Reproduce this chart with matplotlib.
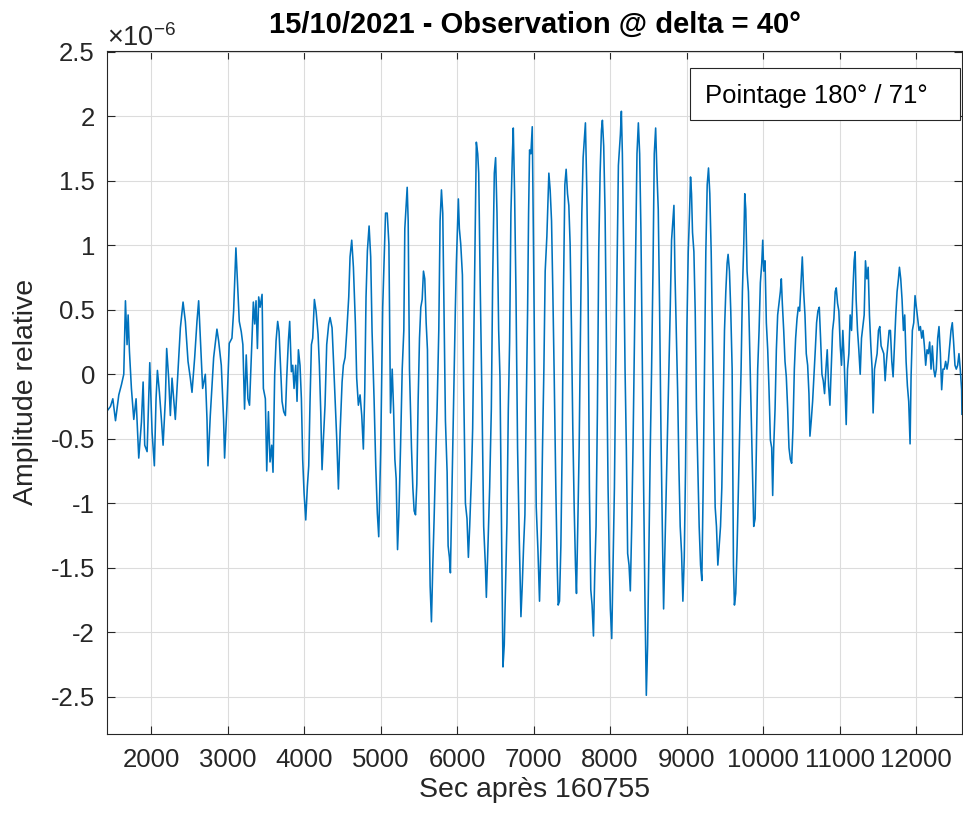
import numpy as np
import matplotlib
matplotlib.use("Agg")
import matplotlib.pyplot as plt
from matplotlib.ticker import FuncFormatter
from matplotlib.patches import Rectangle

# Values (time in s, amplitude in units of 1e-6)
t_seg1 = [1431, 1469, 1500, 1535, 1578, 1613, 1643, 1665, 1686, 1700, 1717, 1743, 1774, 1804, 1839,
          1874, 1896, 1917, 1948, 1983, 2013, 2043, 2065, 2083, 2109, 2135, 2157, 2187, 2204, 2230,
          2252, 2274, 2317, 2352, 2383, 2418, 2448, 2483, 2513, 2535, 2570, 2600, 2622, 2644, 2674,
          2709, 2731, 2744, 2774, 2818, 2861, 2883, 2918, 2948, 2961, 2992, 3022, 3057, 3079, 3109,
          3131, 3153, 3179, 3200, 3222, 3244, 3266, 3287]
a_seg1 = [-0.28, -0.25, -0.19, -0.36, -0.16, -0.08, 0.0, 0.57, 0.23, 0.46, 0.18, -0.11, -0.35, -0.19, -0.65,
          -0.37, -0.06, -0.55, -0.6, 0.09, -0.45, -0.71, -0.19, 0.03, -0.14, -0.35, -0.55, -0.19, 0.2, -0.03,
          -0.32, -0.03, -0.35, 0.02, 0.36, 0.56, 0.41, 0.1, -0.03, -0.14, 0.13, 0.41, 0.57, 0.28, -0.11,
          0.0, -0.35, -0.71, -0.32, 0.13, 0.35, 0.26, 0.07, -0.35, -0.65, -0.24, 0.24, 0.28, 0.49, 0.98,
          0.7, 0.41, 0.33, 0.23, -0.27, 0.15, -0.19, -0.24]

t_seg2 = [3316, 3337, 3355, 3372, 3390, 3407, 3425, 3451, 3468, 3494, 3512, 3534, 3555, 3577, 3594,
          3616, 3634, 3655, 3673, 3695, 3712, 3734, 3756, 3773, 3795, 3812, 3834, 3852, 3869, 3891,
          3908, 3926, 3947, 3965, 3982, 4000, 4022, 4043, 4061, 4078, 4096, 4113, 4135, 4157, 4183,
          4200, 4218, 4235, 4253, 4274, 4296, 4322, 4340, 4366, 4383, 4405, 4427, 4449, 4471, 4497,
          4514, 4536, 4558, 4584, 4601, 4623, 4645, 4671, 4688, 4710, 4732, 4754, 4775, 4793, 4810,
          4828, 4850, 4871, 4889, 4915, 4937, 4958, 4976, 5002, 5028]
a_seg2 = [0.23, 0.56, 0.39, 0.57, 0.2, 0.6, 0.52, 0.62, -0.11, -0.19, -0.75, -0.29, -0.68, -0.55, -0.76,
          0.0, 0.26, 0.41, 0.33, 0.02, -0.21, -0.29, -0.32, -0.03, 0.26, 0.41, 0.02, 0.07, -0.11, 0.07,
          -0.21, 0.19, 0.07, -0.19, -0.66, -0.92, -1.13, -0.87, -0.71, -0.21, 0.23, 0.28, 0.58, 0.49, 0.31,
          0.07, -0.29, -0.74, -0.5, -0.24, 0.23, 0.39, 0.44, 0.36, 0.13, -0.19, -0.5, -0.89, -0.45, -0.06,
          0.07, 0.13, 0.33, 0.6, 0.91, 1.04, 0.83, 0.39, -0.03, -0.24, -0.16, -0.32, -0.58, -0.14, 0.6,
          0.96, 1.15, 0.91, 0.33, -0.19, -0.71, -1.08, -1.26, -0.58, 0.52]

t_seg3 = [5065, 5087, 5109, 5118, 5130, 5152, 5170, 5187, 5204, 5222, 5239, 5261, 5283, 5304, 5317,
          5335, 5348, 5361, 5378, 5404, 5422, 5439, 5457, 5474, 5491, 5509, 5526, 5544, 5561, 5578,
          5596, 5613, 5630, 5648, 5665, 5683, 5700, 5717, 5739, 5761, 5778, 5796, 5813, 5830, 5848,
          5870, 5883, 5900, 5913, 5926, 5944, 5961, 5978, 5991, 6004, 6017, 6030, 6048, 6070, 6087,
          6109, 6130, 6148, 6165, 6187, 6204, 6222, 6239, 6252, 6270, 6283, 6304, 6326, 6348, 6370,
          6383, 6404, 6426, 6448, 6465, 6487, 6504, 6522, 6544, 6561, 6587]
a_seg3 = [1.25, 1.25, 1.01, 0.46, -0.3, 0.04, -0.27, -0.66, -0.81, -1.36, -1.09, -0.57, 0.04, 0.34, 1.13,
          1.31, 1.45, 1.19, 0.04, -0.57, -0.88, -1.06, -1.09, -0.85, -0.21, 0.28, 0.52, 0.58, 0.8, 0.74,
          0.4, 0.19, -0.88, -1.64, -1.92, -1.48, -1.12, -0.72, -0.27, 0.34, 1.19, 1.43, 1.25, 0.46, -0.36,
          -0.76, -1.33, -1.42, -1.54, -1.12, -0.57, 0.04, 0.52, 0.86, 1.1, 1.36, 1.13, 1.01, 0.77, -0.12,
          -1.0, -1.12, -1.42, -1.18, -0.81, -0.42, 0.4, 1.16, 1.8, 1.71, 1.56, 0.64, -0.21, -1.18, -1.48,
          -1.73, -1.33, -0.88, -0.27, 0.71, 1.56, 1.68, 1.25, 0.34, -0.02, -1.48]

t_seg4 = [6600, 6617, 6635, 6652, 6670, 6687, 6704, 6722, 6735, 6752, 6770, 6791, 6813, 6835, 6852,
          6870, 6887, 6904, 6922, 6935, 6948, 6965, 6983, 7000, 7017, 7035, 7057, 7078, 7100, 7117,
          7135, 7152, 7174, 7187, 7200, 7217, 7235, 7252, 7270, 7291, 7309, 7322, 7339, 7357, 7374,
          7391, 7409, 7426, 7444, 7461, 7478, 7496, 7513, 7531, 7548, 7561, 7578, 7596, 7613, 7631,
          7648, 7661, 7678, 7696, 7713, 7730, 7748, 7765, 7783, 7800, 7817, 7835, 7852, 7870, 7887,
          7900, 7917, 7935, 7957, 7974, 7991, 8004, 8022, 8039, 8057, 8074, 8091, 8109]
a_seg4 = [-2.27, -2.1, -1.61, -1.15, -0.27, 0.25, 1.25, 1.68, 1.91, 1.4, 0.64, -0.57, -1.27, -1.88, -1.64,
          -1.33, -1.09, -0.27, 0.49, 1.25, 1.74, 1.71, 1.92, 0.95, -0.12, -1.03, -1.36, -1.76, -1.24, -0.57,
          0.04, 0.8, 1.07, 1.31, 1.56, 1.43, 1.19, 0.64, -0.02, -0.88, -1.48, -1.79, -1.76, -1.33, -0.57,
          0.64, 1.47, 1.59, 1.4, 1.31, 1.01, 0.34, -0.42, -1.03, -1.48, -1.7, -1.18, -0.57, 0.34, 1.25,
          1.68, 1.8, 1.95, 1.43, 0.64, -0.88, -1.67, -1.79, -2.03, -1.54, -1.18, -0.27, 0.95, 1.56, 1.89,
          1.97, 1.77, 1.25, 0.04, -0.88, -1.48, -1.82, -2.05, -1.48, -0.88, 0.04, 0.8, 1.62]

t_seg5 = [8135, 8148, 8161, 8178, 8196, 8213, 8230, 8248, 8265, 8283, 8300, 8317, 8335, 8352, 8370,
          8387, 8404, 8422, 8439, 8457, 8474, 8491, 8509, 8526, 8543, 8561, 8578, 8596, 8613, 8630,
          8648, 8665, 8683, 8700, 8717, 8735, 8752, 8770, 8787, 8804, 8822, 8835, 8848, 8865, 8883,
          8900, 8917, 8935, 8952, 8970, 8987, 9004, 9022, 9039, 9052, 9065, 9078, 9096, 9113, 9130,
          9148, 9165, 9183, 9200, 9217, 9235, 9252, 9270, 9287, 9304, 9322, 9339, 9357, 9374, 9391,
          9409, 9426, 9444, 9461, 9478, 9496, 9513, 9530, 9543, 9561, 9578, 9596]
a_seg5 = [1.86, 2.04, 1.71, 0.95, 0.04, -0.57, -1.39, -1.48, -1.68, -1.18, -0.57, 0.19, 0.95, 1.71, 1.95,
          1.71, 1.1, 0.04, -0.88, -1.79, -2.49, -2.1, -1.33, -0.57, 0.04, 0.8, 1.71, 1.91, 1.56, 1.28,
          0.49, -0.42, -1.18, -1.82, -1.36, -0.88, -0.42, 0.04, 0.52, 1.04, 1.19, 1.31, 0.8, 0.34, -0.12,
          -0.72, -1.18, -1.39, -1.76, -1.42, -0.72, 0.34, 0.95, 1.25, 1.53, 1.4, 1.1, 0.95, 0.49, -0.27,
          -0.72, -1.18, -1.48, -1.6, -0.88, 0.04, 0.95, 1.47, 1.6, 1.4, 0.95, 0.28, -0.42, -1.03, -1.18,
          -1.48, -1.33, -1.18, -0.88, -0.27, 0.34, 0.64, 0.86, 0.93, 0.8, 0.49, 0.04]

t_seg6 = [9613, 9626, 9643, 9661, 9678, 9696, 9713, 9730, 9748, 9761, 9774, 9791, 9809, 9826, 9843,
          9861, 9878, 9896, 9913, 9930, 9948, 9965, 9983, 9996, 10009, 10026, 10043, 10061, 10078, 10096,
          10113, 10126, 10139, 10157, 10174, 10191, 10209, 10226, 10239, 10252, 10270, 10287, 10304, 10322, 10339,
          10357, 10374, 10391, 10409, 10426, 10444, 10461, 10478, 10496, 10513, 10531, 10548, 10565, 10583, 10600,
          10613, 10630, 10648, 10665, 10683, 10700, 10717, 10735, 10752, 10770, 10787, 10804, 10822, 10839, 10857,
          10874, 10891, 10909, 10926, 10943, 10957, 10974, 10991, 11009, 11026, 11043, 11061]
a_seg6 = [-1.48, -1.79, -1.7, -1.33, -0.88, -0.42, 0.04, 0.64, 1.01, 1.4, 1.28, 0.8, 0.64, 0.19, -0.27,
          -0.72, -1.18, -1.12, -0.57, 0.04, 0.34, 0.71, 0.86, 1.04, 0.8, 0.88, 0.4, 0.19, -0.12, -0.51,
          -0.57, -0.94, -0.57, -0.27, 0.19, 0.46, 0.55, 0.64, 0.74, 0.55, 0.34, 0.1, -0.02, -0.27, -0.57,
          -0.66, -0.69, -0.42, 0.04, 0.28, 0.43, 0.52, 0.49, 0.71, 0.91, 0.64, 0.46, 0.16, 0.07, -0.15,
          -0.48, -0.36, -0.21, -0.02, 0.19, 0.4, 0.49, 0.52, 0.28, 0.0, -0.05, -0.15, 0.04, 0.19, -0.09,
          -0.24, 0.04, 0.34, 0.43, 0.64, 0.67, 0.55, 0.49, 0.22, 0.07, 0.34, 0.1]

t_seg7 = [11087, 11104, 11122, 11139, 11157, 11174, 11191, 11204, 11217, 11235, 11252, 11270, 11287, 11304, 11322,
          11339, 11357, 11374, 11391, 11409, 11426, 11439, 11457, 11474, 11491, 11509, 11526, 11543, 11561, 11578,
          11596, 11613, 11630, 11648, 11665, 11683, 11700, 11717, 11735, 11752, 11770, 11783, 11800, 11817, 11835,
          11852, 11870, 11887, 11904, 11922, 11935, 11952, 11970, 11987, 12004, 12022, 12039, 12057, 12074, 12091,
          12109, 12126, 12144, 12161, 12178, 12196, 12213, 12231, 12248, 12265, 12283, 12300, 12318, 12335, 12352,
          12370, 12387, 12405, 12422, 12439, 12457, 12474, 12491, 12509, 12526, 12544, 12561, 12578, 12596, 12600]
a_seg7 = [-0.39, 0.04, 0.16, 0.46, 0.34, 0.64, 0.88, 0.95, 0.58, 0.34, 0.19, 0.0, 0.28, 0.37, 0.46,
          0.88, 0.74, 0.83, 0.46, 0.22, 0.04, -0.3, 0.04, 0.1, 0.16, 0.34, 0.37, 0.22, 0.19, 0.16,
          -0.05, 0.1, 0.22, 0.34, 0.34, 0.1, -0.02, 0.22, 0.46, 0.64, 0.74, 0.83, 0.74, 0.58, 0.34,
          0.46, 0.1, -0.09, -0.21, -0.54, -0.02, 0.34, 0.4, 0.61, 0.52, 0.43, 0.34, 0.37, 0.28, 0.34,
          0.22, 0.07, 0.19, 0.16, 0.25, 0.04, 0.22, 0.04, -0.02, 0.04, 0.28, 0.37, 0.16, -0.12, 0.04,
          0.04, 0.1, 0.04, 0.1, 0.22, 0.34, 0.4, 0.25, 0.07, 0.04, 0.07, 0.16, 0.04, -0.12, -0.31]

x_ticks = list(range(2000, 12001, 1000))
y_ticks = [-2.5, -2, -1.5, -1, -0.5, 0, 0.5, 1, 1.5, 2, 2.5]

title = "15/10/2021 - Observation @ delta = 40°"
x_label = "Sec après 160755"
y_label = "Amplitude relative"
box_label = "Pointage 180° / 71°"

# MATLAB-like look
plt.rcParams['font.family'] = ['Liberation Sans', 'DejaVu Sans']
plt.rcParams['mathtext.fontset'] = 'custom'
plt.rcParams['mathtext.rm'] = 'Liberation Sans'
plt.rcParams['axes.unicode_minus'] = False
dark = '#262626'

# Join the segments into one trace
t = np.concatenate([t_seg1, t_seg2, t_seg3, t_seg4, t_seg5, t_seg6, t_seg7])
amp = np.concatenate([a_seg1, a_seg2, a_seg3, a_seg4, a_seg5, a_seg6, a_seg7])

fig = plt.figure(figsize=(9.63, 8.17), dpi=100)
ax = fig.add_axes([0.1116, 0.1016, 0.8873, 0.8364])

ax.plot(t, amp, color='#0072BD', lw=1.15)

ax.set_xlim(1430, 12600)
ax.set_ylim(-2.79, 2.51)
ax.set_xticks(x_ticks)
ax.set_yticks(y_ticks)
ax.yaxis.set_major_formatter(FuncFormatter(lambda v, p: f'{v:g}'))

ax.grid(True, color='#dcdcdc', lw=0.8)
ax.set_axisbelow(True)
for sp in ax.spines.values():
    sp.set_color(dark)
    sp.set_linewidth(0.8)
ax.tick_params(direction='in', length=6, width=0.8, top=True, right=True,
               colors=dark, labelsize=18.5)
ax.tick_params(axis='x', pad=10)
ax.tick_params(axis='y', pad=9)

# exponent label of the y axis
ax.text(0.0, 0.998, r'$\times$10$^{-6}$', transform=ax.transAxes, ha='left', va='bottom',
        fontsize=19.5, color=dark)

ax.set_title(title, fontsize=21, fontweight='bold', pad=13)
ax.set_xlabel(x_label, fontsize=20.5, color=dark, labelpad=4)
ax.set_ylabel(y_label, fontsize=20.5, color=dark, labelpad=8)

# boxed annotation in the top right corner
ax.add_patch(Rectangle((0.6817, 0.8986), 0.316, 0.0757, transform=ax.transAxes,
                       facecolor='white', edgecolor=dark, lw=0.8, zorder=5))
ax.text(0.699, 0.923, box_label, transform=ax.transAxes, ha='left', va='baseline',
        fontsize=18.5, color='black', zorder=6)

fig.savefig('out.png', dpi=100)
